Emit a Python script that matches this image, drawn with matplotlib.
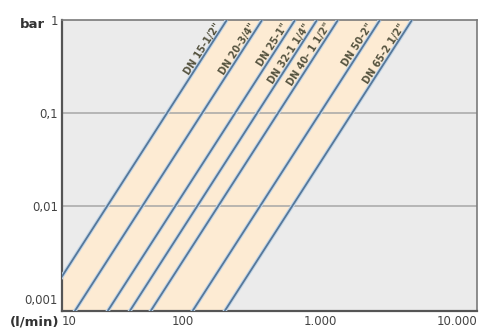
import numpy as np
import matplotlib
from matplotlib import pyplot as plt

matplotlib.use('agg')

# flow (l/min) read where each line meets 1 bar (top) and 0.0005 bar (below the frame)
labels = ['DN 15-1/2"', 'DN 20-3/4"', 'DN 25-1"', 'DN 32-1 1/4"',
          'DN 40- 1 1/2"', 'DN 50-2"', 'DN 65-2 1/2"']
q_top = [209, 378, 658, 951, 1353, 2740, 4695]
q_low = [7.6, 13.7, 23.8, 34.5, 49, 99, 170]
p_top = 1.0
p_low = 0.0005

y_ticks = [0.001, 0.01, 0.1, 1]
y_tick_labels = ['0,001', '0,01', '0,1', '1']
x_ticks = [100, 1000, 10000]
x_tick_labels = ['100', '1.000', '10.000']

font = ['Liberation Sans Narrow', 'DejaVu Sans']
plt.rcParams['font.family'] = font

fig = plt.figure(figsize=(4.79, 3.29), dpi=100)
ax = fig.add_axes([62 / 479, 18 / 329, 415 / 479, 291 / 329])
ax.set_facecolor('#ebebeb')
ax.set_xscale('log')
ax.set_yscale('log')
xmin, xmax = 13.1, 14000
ax.set_xlim(xmin, xmax)
ax.set_ylim(0.00074, 1)

# beige band between first and last line
ax.fill_betweenx([p_low, p_top], [q_low[0], q_top[0]], [q_low[-1], q_top[-1]],
                 color='#fdebd3', zorder=1)

for y in [0.1, 0.01]:
    ax.axhline(y, color='#a6a6a6', lw=1.1, zorder=2)

for lo, hi in zip(q_low, q_top):
    ax.plot([lo, hi], [p_low, p_top], color='#c3d6e8', lw=2.8, zorder=3,
            solid_capstyle='butt')
    ax.plot([lo, hi], [p_low, p_top], color='#56789a', lw=1.3, zorder=4,
            solid_capstyle='butt')

# text angle along lines
fig.canvas.draw()
p0 = ax.transData.transform((q_low[0], p_low))
p1 = ax.transData.transform((q_top[0], p_top))
ang = np.degrees(np.arctan2(p1[1] - p0[1], p1[0] - p0[0]))

p_lab = 0.84
for lab, lo, hi in zip(labels, q_low, q_top):
    # point on the line at p_lab (log-log straight line)
    t = (np.log10(p_lab) - np.log10(p_low)) / (np.log10(p_top) - np.log10(p_low))
    q = 10 ** (np.log10(lo) + t * (np.log10(hi) - np.log10(lo)))
    ax.text(q, p_lab, lab, rotation=ang, rotation_mode='anchor',
            ha='right', va='bottom', fontsize=7, fontweight='bold',
            color='#55533f', family=font, zorder=5)

ax.set_yticks(y_ticks)
ax.set_yticklabels(y_tick_labels)
ax.set_xticks([xmin] + x_ticks)
ax.set_xticklabels(['10'] + x_tick_labels)
ax.xaxis.get_majorticklabels()[0].set_horizontalalignment('left')
ax.minorticks_off()
ax.tick_params(length=0, labelsize=8.5, labelcolor='#444444', pad=3)

for s in ['left', 'bottom']:
    ax.spines[s].set_color('#555555')
    ax.spines[s].set_linewidth(1.6)
for s in ['top', 'right']:
    ax.spines[s].set_color('#7a7a7a')
    ax.spines[s].set_linewidth(1.2)

fig.text(20 / 479, 1 - 24 / 329, 'bar', fontsize=9.5, fontweight='bold',
         color='#333333', va='center', ha='left')
fig.text(35 / 479, 1 - 322 / 329, '(l/min)', fontsize=9.5, fontweight='bold',
         color='#333333', va='center', ha='center')

plt.savefig('out.png', dpi=100)
